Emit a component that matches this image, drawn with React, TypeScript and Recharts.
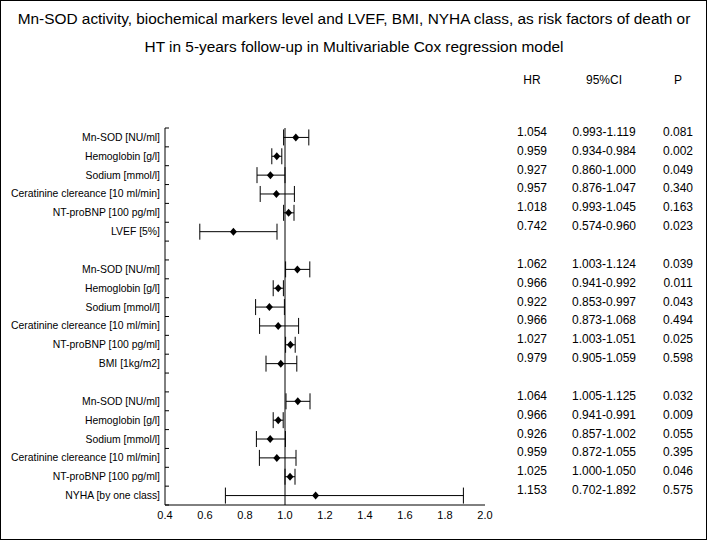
import React from 'react';
import { ScatterChart, Scatter, XAxis, YAxis, ErrorBar, ReferenceLine } from 'recharts';

const TITLE_LINES = [
  'Mn-SOD activity, biochemical markers level and LVEF, BMI, NYHA class, as risk factors of death or',
  'HT in 5-years follow-up in Multivariable Cox regression model',
];
const TABLE_HEADERS = ['HR', '95%CI', 'P'];

// one entry per row, top to bottom; '' / null = spacer row between models
const ROW_LABELS = [
  'Mn-SOD [NU/ml]', 'Hemoglobin [g/l]', 'Sodium [mmol/l]', 'Ceratinine clereance [10 ml/min]', 'NT-proBNP [100 pg/ml]', 'LVEF [5%]',
  '',
  'Mn-SOD [NU/ml]', 'Hemoglobin [g/l]', 'Sodium [mmol/l]', 'Ceratinine clereance [10 ml/min]', 'NT-proBNP [100 pg/ml]', 'BMI [1kg/m2]',
  '',
  'Mn-SOD [NU/ml]', 'Hemoglobin [g/l]', 'Sodium [mmol/l]', 'Ceratinine clereance [10 ml/min]', 'NT-proBNP [100 pg/ml]', 'NYHA [by one class]',
];
const HR = [1.054, 0.959, 0.927, 0.957, 1.018, 0.742, null, 1.062, 0.966, 0.922, 0.966, 1.027, 0.979, null, 1.064, 0.966, 0.926, 0.959, 1.025, 1.153];
const CI_LOW = [0.993, 0.934, 0.86, 0.876, 0.993, 0.574, null, 1.003, 0.941, 0.853, 0.873, 1.003, 0.905, null, 1.005, 0.941, 0.857, 0.872, 1.0, 0.702];
const CI_HIGH = [1.119, 0.984, 1.0, 1.047, 1.045, 0.96, null, 1.124, 0.992, 0.997, 1.068, 1.051, 1.059, null, 1.125, 0.991, 1.002, 1.055, 1.05, 1.892];
const P_VALUES = [0.081, 0.002, 0.049, 0.34, 0.163, 0.023, null, 0.039, 0.011, 0.043, 0.494, 0.025, 0.598, null, 0.032, 0.009, 0.055, 0.395, 0.046, 0.575];
const X_TICKS = [0.4, 0.6, 0.8, 1.0, 1.2, 1.4, 1.6, 1.8, 2.0];

const rows = ROW_LABELS.map((label, i) => ({
  row: i, label, hr: HR[i], lo: CI_LOW[i], hi: CI_HIGH[i], p: P_VALUES[i],
}));
const points = rows
  .filter(r => r.hr !== null)
  .map(r => ({ ...r, err: [r.hr - r.lo, r.hi - r.hr] }));
const ROW_TICKS = rows.map(r => r.row);
const EDGE_TICKS = [...ROW_TICKS.map(r => r - 0.5), ROW_TICKS.length - 0.5];
const Y_DOMAIN = [-0.5, ROW_TICKS.length - 0.5];

const FONT = '"Liberation Sans", Arial, sans-serif';

const Diamond = (props: any) => {
  const { cx, cy } = props;
  return <polygon points={`${cx},${cy - 4} ${cx + 3.5},${cy} ${cx},${cy + 4} ${cx - 3.5},${cy}`} fill="#000" />;
};

const LabelTick = (props: any) => {
  const { x, y, payload } = props;
  const label = ROW_LABELS[payload.value] ?? '';
  return (
    <text x={x} y={y} textAnchor="end" dominantBaseline="central" fontSize={10.4} fill="#000">{label}</text>
  );
};

const TableTick = (props: any) => {
  const { x, y, payload } = props;
  const r = rows[payload.value];
  if (!r || r.hr === null) return <g />;
  const ty = y - 5.5;
  return (
    <g fontSize={12} fill="#000">
      <text x={x + 47} y={ty} textAnchor="middle" dominantBaseline="central">{r.hr.toFixed(3)}</text>
      <text x={x + 119} y={ty} textAnchor="middle" dominantBaseline="central">{`${r.lo.toFixed(3)}-${r.hi.toFixed(3)}`}</text>
      <text x={x + 193} y={ty} textAnchor="middle" dominantBaseline="central">{r.p.toFixed(3)}</text>
    </g>
  );
};

export default function App() {
  return (
    <div style={{ position: 'absolute', left: 0, top: 0, width: 708, height: 541, fontFamily: FONT, background: '#fff' }}>
      <div style={{ position: 'absolute', left: 0, top: 0, width: 707, height: 540, border: '1px solid #000', boxSizing: 'border-box' }} />
      {TITLE_LINES.map((t, i) => (
        <div key={i} style={{ position: 'absolute', left: 0, width: 708, top: 9 + i * 28, fontSize: 15.4, lineHeight: '20px', textAlign: 'center', color: '#000', whiteSpace: 'nowrap' }}>
          {t}
        </div>
      ))}
      {TABLE_HEADERS.map((h, i) => (
        <div key={h} style={{ position: 'absolute', left: [532, 604, 678][i] - 40, width: 80, top: 72, fontSize: 12, lineHeight: '16px', textAlign: 'center', color: '#000' }}>
          {h}
        </div>
      ))}
      <ScatterChart width={708} height={541} margin={{ top: 128, right: 0, bottom: 0, left: 0 }} style={{ position: 'absolute', left: 0, top: 0 }}>
        <XAxis
          xAxisId="main" type="number" dataKey="hr" domain={[0.4, 2.0]} ticks={X_TICKS} allowDataOverflow
          tickFormatter={(v: number) => v.toFixed(1)} height={36} tickLine={false} tickSize={0} tickMargin={6}
          axisLine={{ stroke: '#000' }} tick={{ fill: '#000', fontSize: 11 }} interval={0}
        />
        <XAxis
          xAxisId="grid" type="number" domain={[0.4, 2.0]} ticks={X_TICKS} allowDataOverflow mirror
          tick={() => <g />} tickSize={4} tickLine={{ stroke: '#000' }} axisLine={false} interval={0}
        />
        <YAxis
          yAxisId="main" type="number" dataKey="row" domain={Y_DOMAIN} reversed ticks={ROW_TICKS} allowDataOverflow
          width={165} tickLine={false} tickSize={0} tickMargin={5}
          axisLine={{ stroke: '#000' }} tick={LabelTick} interval={0}
        />
        <YAxis
          yAxisId="grid" type="number" domain={Y_DOMAIN} reversed ticks={EDGE_TICKS} allowDataOverflow mirror
          tick={() => <g />} tickSize={4} tickLine={{ stroke: '#000' }} axisLine={false} interval={0}
        />
        <YAxis
          yAxisId="table" orientation="right" type="number" domain={Y_DOMAIN} reversed ticks={ROW_TICKS} allowDataOverflow
          width={223} tickLine={false} tickSize={0} tickMargin={0} axisLine={false} tick={TableTick} interval={0}
        />
        <ReferenceLine xAxisId="main" yAxisId="main" x={1} stroke="#000" strokeWidth={1} />
        <Scatter xAxisId="main" yAxisId="main" data={points} shape={Diamond} isAnimationActive={false}>
          <ErrorBar dataKey="err" direction="x" width={8} stroke="#000" strokeWidth={1} isAnimationActive={false} />
        </Scatter>
      </ScatterChart>
    </div>
  );
}
